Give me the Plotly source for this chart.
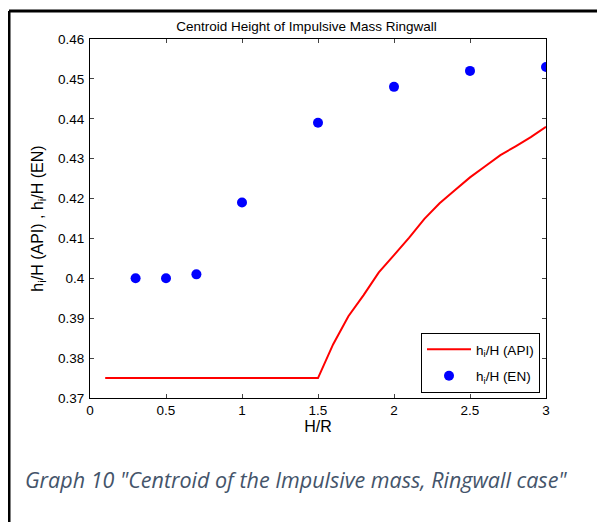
import plotly.graph_objects as go

# API curve h_i/H vs H/R
api_x = [0.1, 1.5, 1.6, 1.7, 1.8, 1.9, 2.0, 2.1, 2.2, 2.3, 2.4, 2.5, 2.6, 2.7, 2.8, 2.9, 3.0]
api_y = [0.375, 0.375, 0.3835, 0.3905, 0.3958, 0.4015, 0.4058, 0.4102, 0.4149, 0.4188, 0.4221,
         0.4253, 0.4281, 0.4309, 0.4331, 0.4354, 0.438]

# EN points
en_x = [0.3, 0.5, 0.7, 1.0, 1.5, 2.0, 2.5, 3.0]
en_y = [0.400, 0.400, 0.401, 0.419, 0.439, 0.448, 0.452, 0.453]

x_ticks = [0, 0.5, 1, 1.5, 2, 2.5, 3]
y_ticks = [0.37, 0.38, 0.39, 0.40, 0.41, 0.42, 0.43, 0.44, 0.45, 0.46]

# page is 605x522, the html body adds an 8px margin
OFF = 8
W, H = 605 - OFF, 522 - OFF
# plot area in page pixels: x 90..546, y 39..398
L, R, T, B = 90, 546, 39, 398


def px(x):
    return (x - L) / (R - L)


def py(y):
    return (B - y) / (B - T)


fig = go.Figure()

fig.add_trace(go.Scatter(
    x=api_x, y=api_y, mode="lines", name="h<sub>i</sub>/H (API)", legendgroup="api",
    line=dict(color="#ff0000", width=2)
))
fig.add_trace(go.Scatter(
    x=en_x, y=en_y, mode="markers", name="h<sub>i</sub>/H (EN)", legendgroup="en",
    marker=dict(color="#0000ff", size=10)
))

font = "Liberation Sans, Arial, sans-serif"

fig.update_layout(
    width=W, height=H,
    margin=dict(l=L - OFF, r=W - (R - OFF), t=T - OFF, b=H - (B - OFF)),
    paper_bgcolor="white", plot_bgcolor="white",
    font=dict(family=font, size=13.5, color="black"),
    showlegend=True,
    legend=dict(
        x=px(540), y=py(393), xanchor="right", yanchor="bottom",
        bgcolor="white", bordercolor="black", borderwidth=1,
        font=dict(size=13.5), tracegroupgap=6, itemwidth=44,
    ),
    title=dict(text="Centroid Height of Impulsive Mass Ringwall",
               x=px(318), xanchor="center", y=1 - (26 - OFF) / H, yanchor="middle",
               font=dict(size=13.5)),
    xaxis=dict(
        range=[0, 3], tickvals=x_ticks, ticktext=[f"{v:g}" for v in x_ticks],
        ticks="inside", ticklen=4, mirror="ticks", showline=True,
        linecolor="black", linewidth=1, showgrid=False, zeroline=False,
        title=dict(text="H/R", standoff=2),
    ),
    yaxis=dict(
        range=[0.37, 0.46], tickvals=y_ticks, ticktext=[f"{v:g}" for v in y_ticks],
        ticks="inside", ticklen=4, mirror="ticks", showline=True,
        linecolor="black", linewidth=1, showgrid=False, zeroline=False,
        ticklabelstandoff=2,
        title=dict(text="h<sub>i</sub>/H (API) , h<sub>i</sub>/H (EN)", standoff=10),
    ),
)

# outer frame of the document figure
fig.add_shape(type="line", xref="paper", yref="paper",
              x0=px(9), x1=px(605), y0=py(11), y1=py(11),
              line=dict(color="black", width=3))
fig.add_shape(type="line", xref="paper", yref="paper",
              x0=px(9), x1=px(9), y0=py(11), y1=py(522),
              line=dict(color="black", width=3))

fig.add_annotation(
    text='Graph 10 "Centroid of the Impulsive mass, Ringwall case"',
    xref="paper", yref="paper", x=px(23), y=py(479),
    xanchor="left", yanchor="middle", showarrow=False,
    font=dict(family="Open Sans, Noto Sans, sans-serif", size=21.5, color="#44546a", style="italic"),
)

fig.write_html("out.html")
